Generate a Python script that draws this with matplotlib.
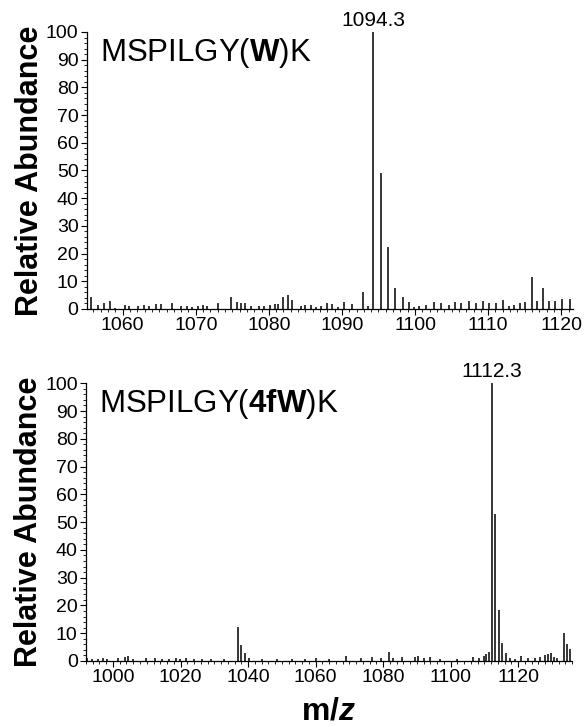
import numpy as np
import matplotlib
matplotlib.use("Agg")
import matplotlib.pyplot as plt
from matplotlib.ticker import MultipleLocator

plt.rcParams['font.family'] = ['Liberation Sans', 'DejaVu Sans']
plt.rcParams['mathtext.fontset'] = 'custom'
plt.rcParams['mathtext.rm'] = 'Liberation Sans'
plt.rcParams['mathtext.bf'] = 'Liberation Sans:bold'
plt.rcParams['mathtext.it'] = 'Liberation Sans:italic'
plt.rcParams['mathtext.bfit'] = 'Liberation Sans:bold:italic'

# --- top spectrum: MSPILGY(W)K ---
mz_top = [1055.7, 1056.6, 1057.4, 1058.2, 1059.0, 1060.3, 1060.9, 1062.1, 1062.9, 1063.6,
          1064.6, 1065.3, 1066.8, 1068.0, 1068.8, 1069.5, 1070.3, 1071.0, 1071.6, 1073.0,
          1074.8, 1075.6, 1076.2, 1076.8, 1077.6, 1078.6, 1079.4, 1080.1, 1080.8, 1081.3,
          1081.9, 1082.6, 1083.2, 1084.4, 1085.0, 1085.7, 1086.4, 1087.2, 1088.0, 1088.7,
          1089.4, 1090.3, 1091.4, 1092.9, 1093.5, 1094.3, 1095.3, 1096.3, 1097.3, 1098.3,
          1099.2, 1099.9, 1100.6, 1101.5, 1102.6, 1103.5, 1104.6, 1105.4, 1106.3, 1107.4,
          1108.3, 1109.3, 1110.1, 1111.1, 1112.0, 1112.8, 1113.6, 1114.4, 1115.1, 1116.0,
          1116.7, 1117.5, 1118.3, 1119.2, 1120.1, 1121.2]
int_top = [4.2, 1.4, 2.0, 3.0, 0.5, 1.4, 1.0, 1.2, 1.3, 1.0,
           1.8, 1.8, 2.0, 1.0, 1.0, 0.8, 1.2, 1.3, 1.0, 2.0,
           4.2, 2.6, 2.2, 2.0, 1.0, 1.0, 1.0, 1.3, 1.8, 1.8,
           4.2, 4.9, 3.4, 1.2, 1.4, 1.3, 0.8, 1.0, 2.2, 1.8,
           0.8, 2.4, 1.7, 6.0, 1.2, 100.0, 49.0, 22.5, 7.5, 4.5,
           2.4, 0.8, 1.2, 1.3, 2.4, 2.2, 1.4, 2.4, 2.0, 3.0,
           2.0, 3.0, 2.2, 2.0, 3.2, 1.2, 1.5, 2.0, 2.4, 11.5,
           2.8, 7.4, 2.8, 2.8, 3.6, 3.6]

# --- bottom spectrum: MSPILGY(4fW)K ---
mz_bot = [992.3, 993.7, 995.6, 997.0, 998.3, 1001.5, 1003.5, 1004.4, 1006.0, 1009.7,
          1012.4, 1014.6, 1016.5, 1018.6, 1019.8, 1021.6, 1024.0, 1026.5, 1029.0, 1033.0,
          1037.0, 1038.0, 1039.0, 1040.2, 1044.0, 1048.5, 1053.0, 1057.0, 1060.2, 1064.0,
          1069.0, 1073.5, 1076.8, 1079.5, 1081.7, 1083.0, 1085.7, 1089.6, 1090.5, 1092.0,
          1093.8, 1097.0, 1102.0, 1106.8, 1108.5, 1110.0, 1110.6, 1111.3, 1112.3, 1113.3,
          1114.3, 1115.3, 1116.3, 1117.5, 1119.0, 1121.0, 1123.0, 1125.0, 1126.5, 1128.0,
          1128.8, 1129.7, 1130.8, 1131.6, 1133.6, 1134.5, 1135.5]
int_bot = [1.2, 0.8, 0.8, 1.0, 0.8, 1.0, 1.4, 1.7, 0.6, 1.2,
           0.9, 0.8, 0.6, 0.9, 0.8, 0.9, 0.7, 0.8, 0.6, 0.6,
           12.4, 5.8, 3.0, 1.2, 0.7, 0.8, 0.6, 0.7, 0.9, 0.8,
           1.7, 1.0, 1.6, 1.0, 3.1, 1.2, 1.3, 1.3, 1.8, 1.2,
           1.4, 0.8, 0.8, 1.5, 1.0, 1.8, 2.4, 3.2, 100.0, 53.0,
           18.5, 6.3, 2.8, 1.0, 0.8, 1.8, 1.0, 1.2, 1.4, 2.2,
           2.4, 2.8, 1.6, 1.2, 10.2, 6.2, 4.2]

panels = [
    dict(mz=mz_top, inten=int_top, xlim=(1055.1, 1121.6), major=10, minor=1,
         label='1094.3', peak=1094.3, title=r'MSPILGY($\mathbf{W}$)K',
         rect=[0.148, 0.575, 0.828, 0.381]),
    dict(mz=mz_bot, inten=int_bot, xlim=(992.0, 1136.0), major=20, minor=2,
         label='1112.3', peak=1112.3, title=r'MSPILGY($\mathbf{4fW}$)K',
         rect=[0.1465, 0.0908, 0.828, 0.382]),
]

fig = plt.figure(figsize=(5.87, 7.27), dpi=100)

for p in panels:
    ax = fig.add_axes(p['rect'])
    ax.vlines(p['mz'], 0, p['inten'], color='black', lw=1.1)
    ax.set_xlim(*p['xlim'])
    ax.set_ylim(0, 100)
    ax.spines['top'].set_visible(False)
    ax.spines['right'].set_visible(False)
    ax.spines['left'].set_linewidth(0.9)
    ax.spines['bottom'].set_linewidth(0.9)
    ax.yaxis.set_major_locator(MultipleLocator(10))
    ax.yaxis.set_minor_locator(MultipleLocator(2))
    ax.xaxis.set_major_locator(MultipleLocator(p['major']))
    ax.xaxis.set_minor_locator(MultipleLocator(p['minor']))
    ax.tick_params(which='major', length=4, width=0.8, labelsize=14, pad=2)
    ax.tick_params(which='minor', length=2, width=0.6)
    ax.set_ylabel('Relative Abundance', fontsize=22, fontweight='bold')
    ax.yaxis.set_label_coords(-0.087, 0.5)
    ax.text(p['peak'], 100.8, p['label'], ha='center', va='bottom', fontsize=15,
            clip_on=False)
    ax.text(0.027, 0.985, p['title'], transform=ax.transAxes, ha='left', va='top',
            fontsize=22.5)

ax.set_xlabel(r'$\mathbf{m/}\mathbfit{z}$', fontsize=23, labelpad=7)

fig.savefig('out.png', dpi=100)
